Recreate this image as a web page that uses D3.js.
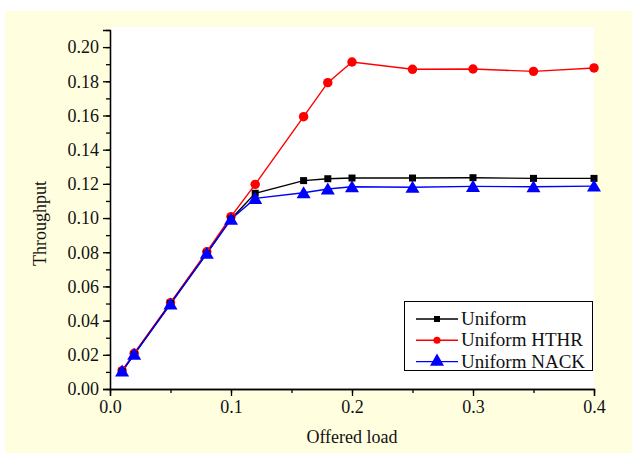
<!DOCTYPE html>
<html><head><meta charset="utf-8">
<script src="https://cdn.jsdelivr.net/npm/d3@7"></script>
<style>body{margin:0;background:#fff}svg{display:block}svg text{font-family:'Liberation Serif','Times New Roman',serif}</style>
</head><body>
<svg id="c" width="632" height="453"></svg>
<script>
const loads = [0.01, 0.02, 0.05, 0.08, 0.1, 0.12, 0.16, 0.18, 0.2, 0.25, 0.3, 0.35, 0.4];
const uniform = [0.0102, 0.0202, 0.0500, 0.0792, 0.0995, 0.1145, 0.1219, 0.1230, 0.1234, 0.1234, 0.1236, 0.1232, 0.1232];
const uniformHTHR = [0.0107, 0.0209, 0.0505, 0.0803, 0.1008, 0.1197, 0.1593, 0.1792, 0.1913, 0.1870, 0.1872, 0.1858, 0.1878];
const uniformNACK = [0.0105, 0.0203, 0.0497, 0.0794, 0.0993, 0.1115, 0.1148, 0.1170, 0.1183, 0.1180, 0.1185, 0.1183, 0.1187];
const seriesNames = ["Uniform", "Uniform HTHR", "Uniform NACK"];
const xTicks = [0, 0.1, 0.2, 0.3, 0.4];
const yTicks = [0, 0.02, 0.04, 0.06, 0.08, 0.10, 0.12, 0.14, 0.16, 0.18, 0.20];
const xLabel = "Offered load", yLabel = "Throughput";

const svg = d3.select("#c");
const font = "'Liberation Serif', 'Times New Roman', serif";
svg.append("rect").attr("x", 5).attr("y", 11).attr("width", 627).attr("height", 442).attr("fill", "#ffffe0");

const L = 110, R = 594, T = 30, B = 389;
const x = d3.scaleLinear().domain([0, 0.4]).range([L, R]);
const y = d3.scaleLinear().domain([0, 0.21]).range([B, T]);
svg.append("rect").attr("x", L).attr("y", 27).attr("width", R - L).attr("height", B - 27).attr("fill", "#fff");

const gx = svg.append("g").attr("transform", `translate(0,${B})`);
gx.call(d3.axisBottom(x).tickValues(d3.range(0, 0.4001, 0.05)).tickSize(4).tickFormat("").tickSizeOuter(0));
gx.append("g").call(d3.axisBottom(x).tickValues(xTicks).tickSize(7).tickFormat(d3.format(".1f")).tickPadding(4));
const gy = svg.append("g").attr("transform", `translate(${L},0)`);
gy.call(d3.axisLeft(y).tickValues(d3.range(0, 0.2101, 0.01)).tickSize(4).tickFormat("").tickSizeOuter(0));
gy.append("g").call(d3.axisLeft(y).tickValues(yTicks).tickSize(7).tickFormat(d3.format(".2f")).tickPadding(4));
svg.selectAll("g").attr("font-family", null);
svg.selectAll(".domain").attr("stroke", "#000").attr("stroke-width", 1.3);
svg.selectAll(".tick line").attr("stroke", "#000").attr("stroke-width", 1.3);
svg.selectAll(".tick text").style("font-family", font).style("font-size", "18px").attr("fill", "#111");

svg.append("text").attr("x", (L + R) / 2).attr("y", 443).attr("text-anchor", "middle")
  .style("font-family", font).style("font-size", "18px").attr("fill", "#111").text(xLabel);
svg.append("text").attr("transform", `translate(46,${(T + B) / 2 + 14}) rotate(-90)`).attr("text-anchor", "middle")
  .style("font-family", font).style("font-size", "18px").attr("fill", "#111").text(yLabel);

const colors = ["#000000", "#ff0000", "#0000ff"];
const data = [uniform, uniformHTHR, uniformNACK];
const line = d3.line().x((d, i) => x(loads[i])).y(d => y(d));
const syms = [d3.symbol().type(d3.symbolSquare).size(49), d3.symbol().type(d3.symbolCircle).size(70), d3.symbol().type(d3.symbolTriangle).size(85)];
[1, 0, 2].forEach(k => {
  svg.append("path").datum(data[k]).attr("d", line).attr("fill", "none").attr("stroke", colors[k]).attr("stroke-width", 1.4);
});
[1, 0, 2].forEach(k => {
  svg.append("g").selectAll("path").data(data[k]).join("path")
    .attr("transform", (d, i) => `translate(${x(loads[i])},${y(d) + (k === 2 ? 1.5 : 0)})`)
    .attr("d", syms[k]()).attr("fill", colors[k]);
});

const lg = svg.append("g");
lg.append("rect").attr("x", 404.5).attr("y", 301.5).attr("width", 188).attr("height", 69)
  .attr("fill", "#fff").attr("stroke", "#000").attr("stroke-width", 1);
const lsyms = [d3.symbol().type(d3.symbolSquare).size(36), d3.symbol().type(d3.symbolCircle).size(40), d3.symbol().type(d3.symbolTriangle).size(85)];
seriesNames.forEach((n, k) => {
  const yy = 319 + k * 21.3;
  lg.append("line").attr("x1", 416).attr("x2", 458).attr("y1", yy).attr("y2", yy).attr("stroke", colors[k]).attr("stroke-width", 1.4);
  lg.append("path").attr("d", lsyms[k]()).attr("transform", `translate(437,${yy})`).attr("fill", colors[k]);
  lg.append("text").attr("x", 461).attr("y", yy + 6).style("font-family", font).style("font-size", "19px").attr("fill", "#111").text(n);
});
</script>
</body></html>
